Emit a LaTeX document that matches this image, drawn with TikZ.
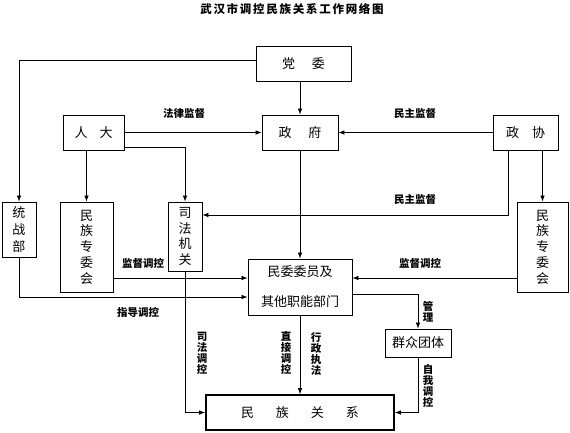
\documentclass[tikz,border=0pt]{standalone}
\usepackage{fontspec}
\setmainfont{Noto Sans CJK SC}
\newfontfamily\titlefont[LetterSpace=15]{Noto Sans CJK SC}
\usepackage{tikz}
\usetikzlibrary{positioning}
\usetikzlibrary{arrows.meta}
\tikzset{
    mybox/.style = {rectangle, draw=black, line width=0.8pt, align=center, inner sep=0pt, font=\fontsize{13}{16}\selectfont, text=black},
    myboxv/.style = {mybox, font=\fontsize{13}{15.8}\selectfont},
    myboxt/.style = {mybox, line width=1.6pt},
    mylabel/.style = {inner sep=0pt, align=center, font=\bfseries\fontsize{10.5}{11}\selectfont, text=black},
    edgen/.style = {-, line width=0.7pt, black},
    edgea/.style = {-{Latex[length=6pt,width=4.5pt]}, line width=0.75pt, black}
}

\begin{document}
\begin{tikzpicture}[x=1pt,y=-1pt]
%
\path[use as bounding box] (0,0) rectangle (570,432);
%
\node[inner sep=0pt, font=\titlefont\bfseries\fontsize{11.5}{12}\selectfont] at (292,9) (title) {武汉市调控民族关系工作网络图};
%
\node[mybox, minimum width=95pt, minimum height=35pt] at (303.5,63.5) (dangwei) {党\hspace{17pt}委};
\node[mybox, minimum width=61pt, minimum height=35pt] at (93.5,132.5) (renda) {人\hspace{12pt}大};
\node[mybox, minimum width=76pt, minimum height=35pt] at (300,132.5) (zhengfu) {政\hspace{17pt}府};
\node[mybox, minimum width=65pt, minimum height=35pt] at (525.5,132.5) (zhengxie) {政\hspace{13pt}协};
\node[myboxv, minimum width=34pt, minimum height=55pt, font=\fontsize{13}{17}\selectfont] at (19,229.5) (tongzhan) {统\\战\\部};
\node[myboxv, minimum width=53pt, minimum height=90pt] at (86.5,247) (minzuL) {民\\族\\专\\委\\会};
\node[myboxv, minimum width=34pt, minimum height=69pt] at (185,236.5) (sifa) {司\\法\\机\\关};
\node[mybox, minimum width=104pt, minimum height=56pt] at (300,287) (minwei) {民委委员及\\[14pt]其他职能部门};
\node[myboxv, minimum width=51pt, minimum height=90pt] at (542.5,247) (minzuR) {民\\族\\专\\委\\会};
\node[mybox, minimum width=66pt, minimum height=28pt] at (418,343) (qunzhong) {群众团体};
\node[myboxt, minimum width=188pt, minimum height=35pt] at (300,412.5) (guanxi) {民\hspace{22pt}族\hspace{22pt}关\hspace{22pt}系};
%
\draw[edgea] ([yshift=3.5pt]dangwei.west) -| (tongzhan.north);
\draw[edgea] (dangwei.south -| zhengfu.north) -- (zhengfu.north);
\draw[edgea] (renda.east) -- (zhengfu.west);
\draw[edgea] (zhengxie.west) -- (zhengfu.east);
\draw[edgea] (minzuL.north |- renda.south) -- (minzuL.north);
\draw[edgea] ([yshift=3pt]renda.south east) -| (sifa.north);
\draw[edgea] ([xshift=-17.5pt]zhengxie.south) |- ([yshift=21.5pt]sifa.east);
\draw[edgea] (minzuR.north |- zhengxie.south) -- (minzuR.north);
\draw[edgea] (zhengfu.south) -- (minwei.north);
\draw[edgea] ([yshift=9pt]minwei.west -| minzuL.east) -- ([yshift=9pt]minwei.west);
\draw[edgea] ([yshift=9pt]minwei.east -| minzuR.west) -- ([yshift=9pt]minwei.east);
\draw[edgea] (tongzhan.south) |- ([yshift=-10pt]minwei.west);
\draw[edgea] (sifa.south) |- (guanxi.west);
\draw[edgea] (minwei.south) -- (guanxi.north);
\draw[edgea] ([yshift=-7pt]minwei.east) -| (qunzhong.north);
\draw[edgea] (qunzhong.south) |- (guanxi.east);
%
\node[mylabel] at (184,114) (l1) {法律监督};
\node[mylabel] at (415,114) (l2) {民主监督};
\node[mylabel] at (415,200) (l3) {民主监督};
\node[mylabel] at (143,263) (l4) {监督调控};
\node[mylabel] at (420,263) (l5) {监督调控};
\node[mylabel] at (138,312) (l6) {指导调控};
\node[mylabel] at (202,353) (l7) {司\\法\\调\\控};
\node[mylabel] at (286,353) (l8) {直\\接\\调\\控};
\node[mylabel] at (316,354) (l9) {行\\政\\执\\法};
\node[mylabel] at (428,312) (l10) {管\\理};
\node[mylabel] at (428,386) (l11) {自\\我\\调\\控};

\end{tikzpicture}
\end{document}
